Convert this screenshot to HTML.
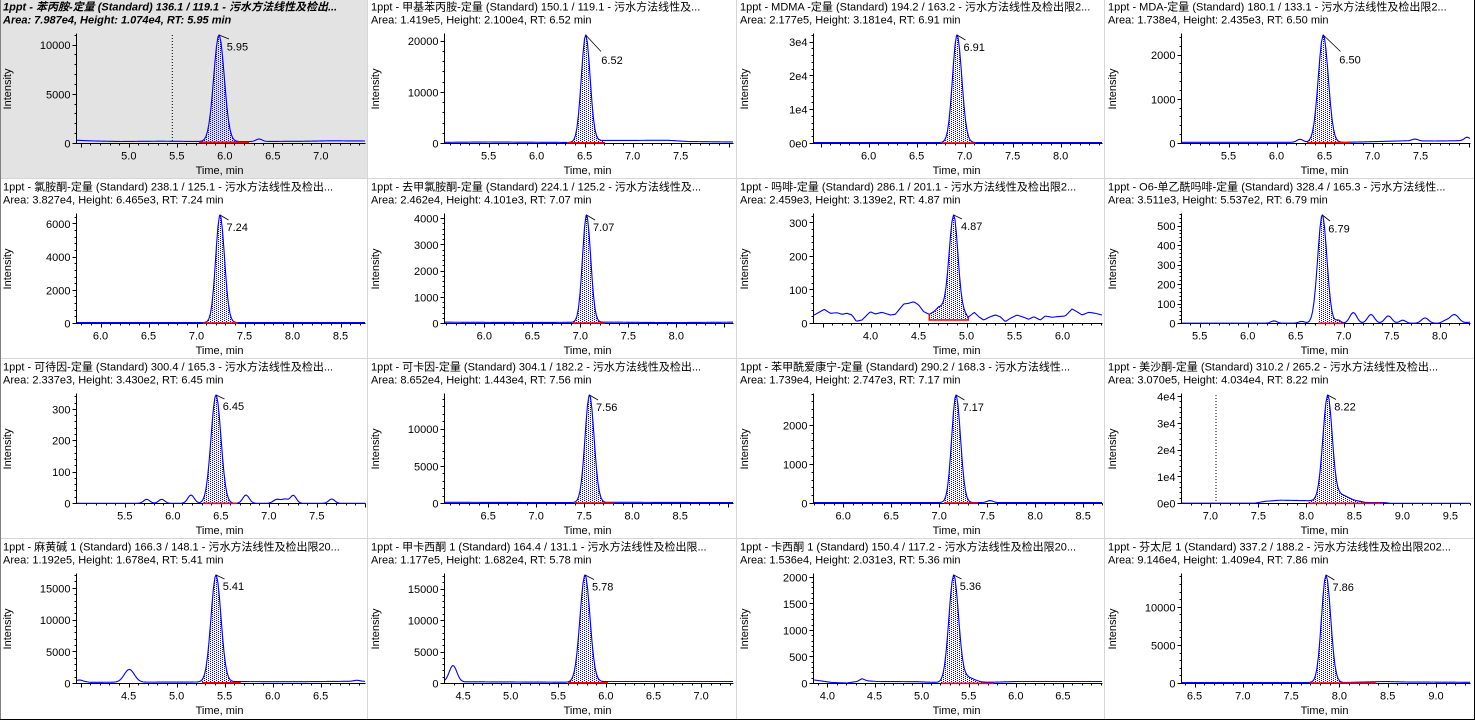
<!DOCTYPE html>
<html><head><meta charset="utf-8"><style>
html,body{margin:0;padding:0;background:#fff;}
svg{display:block;}
text{font-family:"Liberation Sans","Noto Sans CJK SC",sans-serif;font-size:11px;fill:#000;}
.b{font-weight:bold;font-style:italic}
.e{text-anchor:end}
.m{text-anchor:middle}
</style></head><body>
<svg id="s" xmlns="http://www.w3.org/2000/svg" width="1475" height="720" viewBox="0 0 1475 720">
<defs>
<pattern id="dots" width="4" height="2" patternUnits="userSpaceOnUse"><rect x="0" y="0" width="1" height="1" fill="#0000ff"/><rect x="2" y="1" width="1" height="1" fill="#0000ff"/></pattern>
<clipPath id="cl"><rect x="0" y="0" width="366" height="30"/></clipPath>
</defs>
<rect x="1" y="0" width="366.5" height="178" fill="#e3e3e3"/>

<!-- Row 0 -->
<g id="p00" transform="translate(0,0)">
<g clip-path="url(#cl)"><text class="b" x="3" y="10.5">1ppt - 苯丙胺-定量 (Standard) 136.1 / 119.1 - 污水方法线性及检出...</text><text class="b" x="3" y="23.5">Area: 7.987e4, Height: 1.074e4, RT: 5.95 min</text></g>
<text class="e" x="70.5" y="147.5">0</text><text class="e" x="70.5" y="98.25">5000</text><text class="e" x="70.5" y="49">10000</text>
<text class="m" x="128.8" y="159.5">5.0</text><text class="m" x="176.8" y="159.5">5.5</text><text class="m" x="224.8" y="159.5">6.0</text><text class="m" x="272.8" y="159.5">6.5</text><text class="m" x="320.8" y="159.5">7.0</text>
<text class="m" x="219.5" y="174">Time, min</text>
<text class="m" transform="translate(11,89) rotate(-90)">Intensity</text>
<text x="226.7" y="50.7">5.95</text>
</g>
<g id="p01" transform="translate(368,0)">
<g clip-path="url(#cl)"><text x="3" y="10.5">1ppt - 甲基苯丙胺-定量 (Standard) 150.1 / 119.1 - 污水方法线性及...</text><text x="3" y="23.5">Area: 1.419e5, Height: 2.100e4, RT: 6.52 min</text></g>
<text class="e" x="70.5" y="147.5">0</text><text class="e" x="70.5" y="96.25">10000</text><text class="e" x="70.5" y="45">20000</text>
<text class="m" x="120.6" y="159.5">5.5</text><text class="m" x="168.6" y="159.5">6.0</text><text class="m" x="216.6" y="159.5">6.5</text><text class="m" x="264.6" y="159.5">7.0</text><text class="m" x="312.6" y="159.5">7.5</text>
<text class="m" x="219.5" y="174">Time, min</text>
<text class="m" transform="translate(11,89) rotate(-90)">Intensity</text>
<text x="233.3" y="64">6.52</text>
</g>
<g id="p02" transform="translate(737,0)">
<g clip-path="url(#cl)"><text x="3" y="10.5">1ppt - MDMA -定量 (Standard) 194.2 / 163.2 - 污水方法线性及检出限2...</text><text x="3" y="23.5">Area: 2.177e5, Height: 3.181e4, RT: 6.91 min</text></g>
<text class="e" x="70.5" y="147.5">0e0</text><text class="e" x="70.5" y="113.67">1e4</text><text class="e" x="70.5" y="79.83">2e4</text><text class="e" x="70.5" y="46">3e4</text>
<text class="m" x="131.6" y="159.5">6.0</text><text class="m" x="179.6" y="159.5">6.5</text><text class="m" x="227.6" y="159.5">7.0</text><text class="m" x="275.6" y="159.5">7.5</text><text class="m" x="323.6" y="159.5">8.0</text>
<text class="m" x="219.5" y="174">Time, min</text>
<text class="m" transform="translate(11,89) rotate(-90)">Intensity</text>
<text x="226.5" y="51">6.91</text>
</g>
<g id="p03" transform="translate(1105,0)">
<g clip-path="url(#cl)"><text x="3" y="10.5">1ppt - MDA-定量 (Standard) 180.1 / 133.1 - 污水方法线性及检出限2...</text><text x="3" y="23.5">Area: 1.738e4, Height: 2.435e3, RT: 6.50 min</text></g>
<text class="e" x="70.5" y="147.5">0</text><text class="e" x="70.5" y="103.25">1000</text><text class="e" x="70.5" y="59">2000</text>
<text class="m" x="123.5" y="159.5">5.5</text><text class="m" x="171.5" y="159.5">6.0</text><text class="m" x="219.5" y="159.5">6.5</text><text class="m" x="267.5" y="159.5">7.0</text><text class="m" x="315.5" y="159.5">7.5</text>
<text class="m" x="219.5" y="174">Time, min</text>
<text class="m" transform="translate(11,89) rotate(-90)">Intensity</text>
<text x="234.3" y="63.3">6.50</text>
</g>

<!-- Row 1 -->
<g id="p10" transform="translate(0,180)">
<g clip-path="url(#cl)"><text x="3" y="10.5">1ppt - 氯胺酮-定量 (Standard) 238.1 / 125.1 - 污水方法线性及检出...</text><text x="3" y="23.5">Area: 3.827e4, Height: 6.465e3, RT: 7.24 min</text></g>
<text class="e" x="70.5" y="147.5">0</text><text class="e" x="70.5" y="114.33">2000</text><text class="e" x="70.5" y="81.17">4000</text><text class="e" x="70.5" y="48">6000</text>
<text class="m" x="100.5" y="159.5">6.0</text><text class="m" x="148.5" y="159.5">6.5</text><text class="m" x="196.5" y="159.5">7.0</text><text class="m" x="244.5" y="159.5">7.5</text><text class="m" x="292.5" y="159.5">8.0</text><text class="m" x="340.5" y="159.5">8.5</text>
<text class="m" x="219.5" y="174">Time, min</text>
<text class="m" transform="translate(11,89) rotate(-90)">Intensity</text>
<text x="226.5" y="51">7.24</text>
</g>
<g id="p11" transform="translate(368,180)">
<g clip-path="url(#cl)"><text x="3" y="10.5">1ppt - 去甲氯胺酮-定量 (Standard) 224.1 / 125.2 - 污水方法线性及...</text><text x="3" y="23.5">Area: 2.462e4, Height: 4.101e3, RT: 7.07 min</text></g>
<text class="e" x="70.5" y="147.5">0</text><text class="e" x="70.5" y="121.3">1000</text><text class="e" x="70.5" y="95.1">2000</text><text class="e" x="70.5" y="68.9">3000</text><text class="e" x="70.5" y="42.7">4000</text>
<text class="m" x="116.3" y="159.5">6.0</text><text class="m" x="164.3" y="159.5">6.5</text><text class="m" x="212.3" y="159.5">7.0</text><text class="m" x="260.3" y="159.5">7.5</text><text class="m" x="308.3" y="159.5">8.0</text>
<text class="m" x="219.5" y="174">Time, min</text>
<text class="m" transform="translate(11,89) rotate(-90)">Intensity</text>
<text x="225" y="51">7.07</text>
</g>
<g id="p12" transform="translate(737,180)">
<g clip-path="url(#cl)"><text x="3" y="10.5">1ppt - 吗啡-定量 (Standard) 286.1 / 201.1 - 污水方法线性及检出限2...</text><text x="3" y="23.5">Area: 2.459e3, Height: 3.139e2, RT: 4.87 min</text></g>
<text class="e" x="70.5" y="147.5">0</text><text class="e" x="70.5" y="113.93">100</text><text class="e" x="70.5" y="80.36">200</text><text class="e" x="70.5" y="46.8">300</text>
<text class="m" x="133.5" y="159.5">4.0</text><text class="m" x="181.5" y="159.5">4.5</text><text class="m" x="229.5" y="159.5">5.0</text><text class="m" x="277.5" y="159.5">5.5</text><text class="m" x="325.5" y="159.5">6.0</text>
<text class="m" x="219.5" y="174">Time, min</text>
<text class="m" transform="translate(11,89) rotate(-90)">Intensity</text>
<text x="224" y="50">4.87</text>
</g>
<g id="p13" transform="translate(1105,180)">
<g clip-path="url(#cl)"><text x="3" y="10.5">1ppt - O6-单乙酰吗啡-定量 (Standard) 328.4 / 165.3 - 污水方法线性...</text><text x="3" y="23.5">Area: 3.511e3, Height: 5.537e2, RT: 6.79 min</text></g>
<text class="e" x="70.5" y="147.5">0</text><text class="e" x="70.5" y="128.04">100</text><text class="e" x="70.5" y="108.58">200</text><text class="e" x="70.5" y="89.12">300</text><text class="e" x="70.5" y="69.66">400</text><text class="e" x="70.5" y="50.2">500</text>
<text class="m" x="94.7" y="159.5">5.5</text><text class="m" x="142.7" y="159.5">6.0</text><text class="m" x="190.7" y="159.5">6.5</text><text class="m" x="238.7" y="159.5">7.0</text><text class="m" x="286.7" y="159.5">7.5</text><text class="m" x="334.7" y="159.5">8.0</text>
<text class="m" x="219.5" y="174">Time, min</text>
<text class="m" transform="translate(11,89) rotate(-90)">Intensity</text>
<text x="223.3" y="52.7">6.79</text>
</g>

<!-- Row 2 -->
<g id="p20" transform="translate(0,360)">
<g clip-path="url(#cl)"><text x="3" y="10.5">1ppt - 可待因-定量 (Standard) 300.4 / 165.3 - 污水方法线性及检出...</text><text x="3" y="23.5">Area: 2.337e3, Height: 3.430e2, RT: 6.45 min</text></g>
<text class="e" x="70.5" y="147.5">0</text><text class="e" x="70.5" y="116.1">100</text><text class="e" x="70.5" y="84.7">200</text><text class="e" x="70.5" y="53.3">300</text>
<text class="m" x="124.8" y="159.5">5.5</text><text class="m" x="172.8" y="159.5">6.0</text><text class="m" x="220.8" y="159.5">6.5</text><text class="m" x="268.8" y="159.5">7.0</text><text class="m" x="316.8" y="159.5">7.5</text>
<text class="m" x="219.5" y="174">Time, min</text>
<text class="m" transform="translate(11,89) rotate(-90)">Intensity</text>
<text x="222.7" y="50">6.45</text>
</g>
<g id="p21" transform="translate(368,360)">
<g clip-path="url(#cl)"><text x="3" y="10.5">1ppt - 可卡因-定量 (Standard) 304.1 / 182.2 - 污水方法线性及检出...</text><text x="3" y="23.5">Area: 8.652e4, Height: 1.443e4, RT: 7.56 min</text></g>
<text class="e" x="70.5" y="147.5">0</text><text class="e" x="70.5" y="110.25">5000</text><text class="e" x="70.5" y="73">10000</text>
<text class="m" x="120.2" y="159.5">6.5</text><text class="m" x="168.2" y="159.5">7.0</text><text class="m" x="216.2" y="159.5">7.5</text><text class="m" x="264.2" y="159.5">8.0</text><text class="m" x="312.2" y="159.5">8.5</text>
<text class="m" x="219.5" y="174">Time, min</text>
<text class="m" transform="translate(11,89) rotate(-90)">Intensity</text>
<text x="228" y="51">7.56</text>
</g>
<g id="p22" transform="translate(737,360)">
<g clip-path="url(#cl)"><text x="3" y="10.5">1ppt - 苯甲酰爱康宁-定量 (Standard) 290.2 / 168.3 - 污水方法线性...</text><text x="3" y="23.5">Area: 1.739e4, Height: 2.747e3, RT: 7.17 min</text></g>
<text class="e" x="70.5" y="147.5">0</text><text class="e" x="70.5" y="108.4">1000</text><text class="e" x="70.5" y="69.3">2000</text>
<text class="m" x="106.2" y="159.5">6.0</text><text class="m" x="154.2" y="159.5">6.5</text><text class="m" x="202.2" y="159.5">7.0</text><text class="m" x="250.2" y="159.5">7.5</text><text class="m" x="298.2" y="159.5">8.0</text><text class="m" x="346.2" y="159.5">8.5</text>
<text class="m" x="219.5" y="174">Time, min</text>
<text class="m" transform="translate(11,89) rotate(-90)">Intensity</text>
<text x="225.5" y="51">7.17</text>
</g>
<g id="p23" transform="translate(1105,360)">
<g clip-path="url(#cl)"><text x="3" y="10.5">1ppt - 美沙酮-定量 (Standard) 310.2 / 265.2 - 污水方法线性及检出...</text><text x="3" y="23.5">Area: 3.070e5, Height: 4.034e4, RT: 8.22 min</text></g>
<text class="e" x="70.5" y="147.5">0e0</text><text class="e" x="70.5" y="120.75">1e4</text><text class="e" x="70.5" y="94">2e4</text><text class="e" x="70.5" y="67.25">3e4</text><text class="e" x="70.5" y="40.5">4e4</text>
<text class="m" x="105.4" y="159.5">7.0</text><text class="m" x="153.4" y="159.5">7.5</text><text class="m" x="201.4" y="159.5">8.0</text><text class="m" x="249.4" y="159.5">8.5</text><text class="m" x="297.4" y="159.5">9.0</text><text class="m" x="345.4" y="159.5">9.5</text>
<text class="m" x="219.5" y="174">Time, min</text>
<text class="m" transform="translate(11,89) rotate(-90)">Intensity</text>
<text x="229.3" y="50.7">8.22</text>
</g>

<!-- Row 3 -->
<g id="p30" transform="translate(0,540)">
<g clip-path="url(#cl)"><text x="3" y="10.5">1ppt - 麻黄碱 1 (Standard) 166.3 / 148.1 - 污水方法线性及检出限20...</text><text x="3" y="23.5">Area: 1.192e5, Height: 1.678e4, RT: 5.41 min</text></g>
<text class="e" x="70.5" y="147.5">0</text><text class="e" x="70.5" y="115.77">5000</text><text class="e" x="70.5" y="84.04">10000</text><text class="e" x="70.5" y="52.3">15000</text>
<text class="m" x="128.6" y="159.5">4.5</text><text class="m" x="176.6" y="159.5">5.0</text><text class="m" x="224.6" y="159.5">5.5</text><text class="m" x="272.6" y="159.5">6.0</text><text class="m" x="320.6" y="159.5">6.5</text>
<text class="m" x="219.5" y="174">Time, min</text>
<text class="m" transform="translate(11,89) rotate(-90)">Intensity</text>
<text x="222.7" y="50">5.41</text>
</g>
<g id="p31" transform="translate(368,540)">
<g clip-path="url(#cl)"><text x="3" y="10.5">1ppt - 甲卡西酮 1 (Standard) 164.4 / 131.1 - 污水方法线性及检出限...</text><text x="3" y="23.5">Area: 1.177e5, Height: 1.682e4, RT: 5.78 min</text></g>
<text class="e" x="70.5" y="147.5">0</text><text class="e" x="70.5" y="116">5000</text><text class="e" x="70.5" y="84.5">10000</text><text class="e" x="70.5" y="53">15000</text>
<text class="m" x="95.1" y="159.5">4.5</text><text class="m" x="142.7" y="159.5">5.0</text><text class="m" x="190.3" y="159.5">5.5</text><text class="m" x="237.9" y="159.5">6.0</text><text class="m" x="285.5" y="159.5">6.5</text><text class="m" x="333.1" y="159.5">7.0</text>
<text class="m" x="219.5" y="174">Time, min</text>
<text class="m" transform="translate(11,89) rotate(-90)">Intensity</text>
<text x="224" y="50.7">5.78</text>
</g>
<g id="p32" transform="translate(737,540)">
<g clip-path="url(#cl)"><text x="3" y="10.5">1ppt - 卡西酮 1 (Standard) 150.4 / 117.2 - 污水方法线性及检出限20...</text><text x="3" y="23.5">Area: 1.536e4, Height: 2.031e3, RT: 5.36 min</text></g>
<text class="e" x="70.5" y="147.5">0</text><text class="e" x="70.5" y="120.95">500</text><text class="e" x="70.5" y="94.4">1000</text><text class="e" x="70.5" y="67.85">1500</text><text class="e" x="70.5" y="41.3">2000</text>
<text class="m" x="90.4" y="159.5">4.0</text><text class="m" x="137.5" y="159.5">4.5</text><text class="m" x="184.6" y="159.5">5.0</text><text class="m" x="231.7" y="159.5">5.5</text><text class="m" x="278.8" y="159.5">6.0</text><text class="m" x="325.9" y="159.5">6.5</text>
<text class="m" x="219.5" y="174">Time, min</text>
<text class="m" transform="translate(11,89) rotate(-90)">Intensity</text>
<text x="222.7" y="50">5.36</text>
</g>
<g id="p33" transform="translate(1105,540)">
<g clip-path="url(#cl)"><text x="3" y="10.5">1ppt - 芬太尼 1 (Standard) 337.2 / 188.2 - 污水方法线性及检出限202...</text><text x="3" y="23.5">Area: 9.146e4, Height: 1.409e4, RT: 7.86 min</text></g>
<text class="e" x="70.5" y="147.5">0</text><text class="e" x="70.5" y="109.4">5000</text><text class="e" x="70.5" y="71.3">10000</text>
<text class="m" x="89.5" y="159.5">6.5</text><text class="m" x="137.8" y="159.5">7.0</text><text class="m" x="186.1" y="159.5">7.5</text><text class="m" x="234.4" y="159.5">8.0</text><text class="m" x="282.7" y="159.5">8.5</text><text class="m" x="331" y="159.5">9.0</text>
<text class="m" x="219.5" y="174">Time, min</text>
<text class="m" transform="translate(11,89) rotate(-90)">Intensity</text>
<text x="227.5" y="51">7.86</text>
</g>

<!-- separators and borders -->
<g stroke="#d6d6d6" stroke-width="1" shape-rendering="crispEdges">
<line x1="367.5" y1="0" x2="367.5" y2="720"/>
<line x1="736.5" y1="0" x2="736.5" y2="720"/>
<line x1="1104.5" y1="0" x2="1104.5" y2="720"/>
<line x1="0" y1="178.5" x2="1475" y2="178.5"/>
<line x1="0" y1="358.5" x2="1475" y2="358.5"/>
<line x1="0" y1="538.5" x2="1475" y2="538.5"/>
</g>
<line x1="0.5" y1="0" x2="0.5" y2="720" stroke="#808080" shape-rendering="crispEdges"/>
<line x1="1474.5" y1="0" x2="1474.5" y2="720" stroke="#000" shape-rendering="crispEdges"/>
<line x1="0" y1="719.5" x2="1475" y2="719.5" stroke="#000" shape-rendering="crispEdges"/>
</svg>
<script>
(function(){
var NS='http://www.w3.org/2000/svg';
function el(tag,attrs,parent,first){var e=document.createElementNS(NS,tag);for(var k in attrs)e.setAttribute(k,attrs[k]);if(first&&parent.firstChild)parent.insertBefore(e,parent.firstChild);else parent.appendChild(e);return e;}
function interp(p,x){if(x<=p[0][0])return p[0][1];for(var i=1;i<p.length;i++){if(x<=p[i][0]){var a=p[i-1],b=p[i];return a[1]+(b[1]-a[1])*(x-a[0])/(b[0]-a[0]);}}return p[p.length-1][1];}
function g(x,c,s,a){var d=(x-c)/s;return a*Math.exp(-0.5*d*d);}
var P=[
{id:'p00',c:219,sl:5.3,sr:5.3,base:[[77,140.3],[95,141],[120,141.5],[160,141.2],[200,141.5],[230,141.6],[250,141.5],[300,141.3],[330,140.8],[365,141]],bumps:[[259,3,2.5]],red:[199,249,142.3],t0:5.0,px0:128.8,k:96,ys:49.25,vline:172.3,ln:[229,39]},
{id:'p01',c:217.7,sl:4.4,sr:4.4,base:[[77,142.3],[120,142],[180,142.3],[212,142.5],[232,140.5],[300,140.3],[320,141.5],[365,142]],bumps:[],red:[199,237,142.8],t0:5.5,px0:120.6,k:96,ys:51.25,ln:[233,51.5]},
{id:'p02',c:220,sl:4.5,sr:4.8,base:[[77,142.5],[365,142.6]],bumps:[],red:[205,238,143],t0:6.0,px0:131.6,k:96,ys:33.83,ln:[228.5,40]},
{id:'p03',c:218.3,sl:5,sr:5,base:[[77,142.3],[180,142.3],[205,142.2],[240,142.3],[270,141.6],[300,140.8],[330,141],[350,140.8],[365,140]],bumps:[[195,3,3],[310,3,1.8],[362,2.5,3]],red:[202,245,142.7],t0:5.5,px0:123.5,k:96,ys:44.25,ln:[235.5,51.5]},
{id:'p10',c:220,sl:4.3,sr:4.5,base:[[77,142.6],[365,142.6]],bumps:[],red:[203,238,143],t0:6.0,px0:100.5,k:96,ys:33.17,ln:[228.5,40]},
{id:'p11',c:218.5,sl:4,sr:4.2,base:[[77,142.2],[150,142.5],[250,142.2],[300,142.6],[365,142.2]],bumps:[],red:[205,237,143],t0:6.0,px0:116.3,k:96,ys:26.2,ln:[227,40]},
{id:'p12',c:216.7,sl:4.6,sr:4.2,base:[[77.3,135],[87.3,129.3],[93.3,133.3],[100,132.7],[105,134.3],[110,133.3],[115,135],[119.3,141.3],[125,140],[133.3,131.7],[138.3,134],[145,132.3],[153.3,135],[158.3,134.3],[166.7,124],[171.7,123.3],[176.7,121.7],[181.7,125],[186.7,131.7],[192.3,134.3],[196.7,131.7],[201.7,127],[205,128],[210,132],[226.7,133],[231.3,137.3],[237.3,132.3],[241.7,136.7],[246.7,140],[253.3,136.7],[258.3,135],[263.3,136.7],[268.3,141.7],[273.3,138.3],[280,135],[286.7,137.3],[291.7,139.3],[296.7,136.7],[303.3,140],[308.3,136],[315,137.3],[320,136.7],[328.3,136],[335,129],[340,131.7],[345,135],[351.7,132.3],[358.3,133.3],[365,135]],bumps:[],red:[192.3,231.3,140],bracket:[134.3,136.7],t0:4.0,px0:133.5,k:96,ys:33.57,ln:[225,39],step:1.5},
{id:'p13',c:217.3,sl:4.6,sr:4.6,base:[[77,143.2],[365,143.2]],bumps:[[169,3,2.3],[196.7,3,1.8],[233.3,2.5,3],[248.3,3.5,10.7],[266,3.5,8.7],[283.3,3.5,7.3],[297.7,3,3],[320,3.5,5.3],[340,3,2],[349.3,4.5,8.7],[365,3,1]],red:[213,239,143.3],t0:5.5,px0:94.7,k:96,ys:19.46,ln:[225,41]},
{id:'p20',c:216,sl:5,sr:5,base:[[77,143.3],[365,143.3]],bumps:[[146.7,3,4],[161.7,3,4],[191,3.2,8.3],[246,3.2,8.3],[277,3.5,4],[285,3,4],[293.3,3,8],[331.7,3,4.3]],red:[203,237,143.3],t0:5.5,px0:124.8,k:96,ys:31.4,ln:[224.5,39]},
{id:'p21',c:221.5,sl:4.5,sr:4.6,base:[[77,142.3],[200,142.6],[250,142.3],[365,142.6]],bumps:[],red:[207,246,143],t0:6.5,px0:120.2,k:96,ys:37.25,ln:[230,40]},
{id:'p22',c:219,sl:4.3,sr:4.5,base:[[77,142.5],[365,142.6]],bumps:[[253,3,2]],red:[207,241,143],t0:6.0,px0:106.2,k:96,ys:39.1,ln:[227.5,40]},
{id:'p23',c:222.7,sl:4.8,sr:4.4,base:[[77,143.2],[150,143.2],[160,141.3],[175,140.2],[200,140.6],[215,141],[256,141.7],[260,142.5],[280,142.6],[285,143.3],[365,143.3]],bumps:[[234,9,7]],red:[203,278,143.3],t0:7.0,px0:105.4,k:96,ys:26.75,vline:111,ln:[231,39.5]},
{id:'p30',c:216,sl:5,sr:5,base:[[77,141],[85,141.5],[90,142.3],[200,142],[240,141.6],[300,141.7],[350,141.3],[365,141.3]],bumps:[[80,2.5,1.2],[129.3,5,12.8],[356.7,3,1]],red:[202,240.7,142.8],t0:4.5,px0:128.6,k:96,ys:31.73,ln:[224.5,39]},
{id:'p31',c:217,sl:5,sr:5,base:[[77,142],[100,141.8],[200,142.2],[240,141.5],[365,141.5]],bumps:[[85,3.8,16.5]],red:[200,240,142.8],t0:4.5,px0:95.1,k:95.2,ys:31.5,ln:[226,39.5]},
{id:'p32',c:216.7,sl:4.8,sr:4.8,base:[[77,140],[85,141],[95,142.5],[110,143],[120,141.5],[125,138.7],[130,140.7],[140,141.5],[180,141.7],[200,142.5],[256,142.2],[280,141.5],[365,141.5]],bumps:[[230,7,5]],red:[204,256.7,143.3],t0:4.0,px0:90.4,k:94.2,ys:26.55,ln:[224.5,39]},
{id:'p33',c:221,sl:4.5,sr:4.7,base:[[77,142.5],[240,142.5],[260,142],[280,141.5],[300,142],[365,142.3]],bumps:[],red:[205,271,143],t0:6.5,px0:89.5,k:96.6,ys:38.1,ln:[229.5,40]}
];
P.forEach(function(p){
  var grp=document.getElementById(p.id);
  var layer=el('g',{},grp,true);
  var bumps=p.bumps||[];
  function other(x){var s=0;for(var i=0;i<bumps.length;i++)s+=g(x,bumps[i][0],bumps[i][1],bumps[i][2]);return s;}
  var amp=interp(p.base,p.c)-35-other(p.c);
  function Y(x){var s=x<p.c?p.sl:p.sr;var y=interp(p.base,x)-other(x)-g(x,p.c,s,amp);return Math.min(143.5,y);}
  var step=p.step||1.5;
  var xs=[];for(var x=77;x<=365.01;x+=step)xs.push(+x.toFixed(2));
  xs.push(p.c);xs.push(p.red[0]);xs.push(p.red[1]);
  xs.sort(function(a,b){return a-b;});
  var L=p.red[0],R=p.red[1],ry=p.red[2];
  var fp=[];xs.forEach(function(x){if(x>=L&&x<=R)fp.push(x.toFixed(2)+','+Y(x).toFixed(2));});
  fp.push(R+','+ry);fp.push(L+','+ry);
  el('polygon',{points:fp.join(' '),fill:'url(#dots)',stroke:'none'},layer);
  var ax=el('g',{stroke:'#000','stroke-width':1,'shape-rendering':'crispEdges',fill:'none'},layer);
  el('line',{x1:76.5,y1:33.5,x2:76.5,y2:143.5},ax);
  el('line',{x1:76.5,y1:143.5,x2:365.5,y2:143.5},ax);
  for(var i=-60;i<=60;i++){var px=p.px0+i*0.1*p.k;if(px<77||px>365.5)continue;var major=(i%5===0);var xx=Math.round(px)+0.5;el('line',{x1:xx,y1:143.5,x2:xx,y2:major?147.5:145.5},ax);}
  var d=p.ys/5;for(var j=0;;j++){var yy=143.5-j*d;if(yy<34)break;var yr=Math.round(yy-0.5)+0.5;var mj=(j%5===0);el('line',{x1:mj?72.5:74.5,y1:yr,x2:76.5,y2:yr},ax);}
  if(p.vline){el('line',{x1:p.vline,y1:35,x2:p.vline,y2:143.5,stroke:'#000','stroke-width':1,'stroke-dasharray':'1,2'},layer);}
  var cp=xs.map(function(x){return x.toFixed(2)+','+Y(x).toFixed(2);});
  el('polyline',{points:cp.join(' '),fill:'none',stroke:'#0000ff','stroke-width':1.1,'stroke-linejoin':'round'},layer);
  if(p.bracket){el('path',{d:'M'+L+','+p.bracket[0]+' V'+ry+' H'+R+' V'+p.bracket[1],fill:'none',stroke:'#ff0000','stroke-width':1.5},layer);}
  else{el('line',{x1:L,y1:ry,x2:R,y2:ry,stroke:'#ff0000','stroke-width':1.6},layer);}
  el('line',{x1:p.c,y1:35,x2:p.ln[0],y2:p.ln[1],stroke:'#000','stroke-width':0.8},layer);
});
})();
</script>
</body></html>
